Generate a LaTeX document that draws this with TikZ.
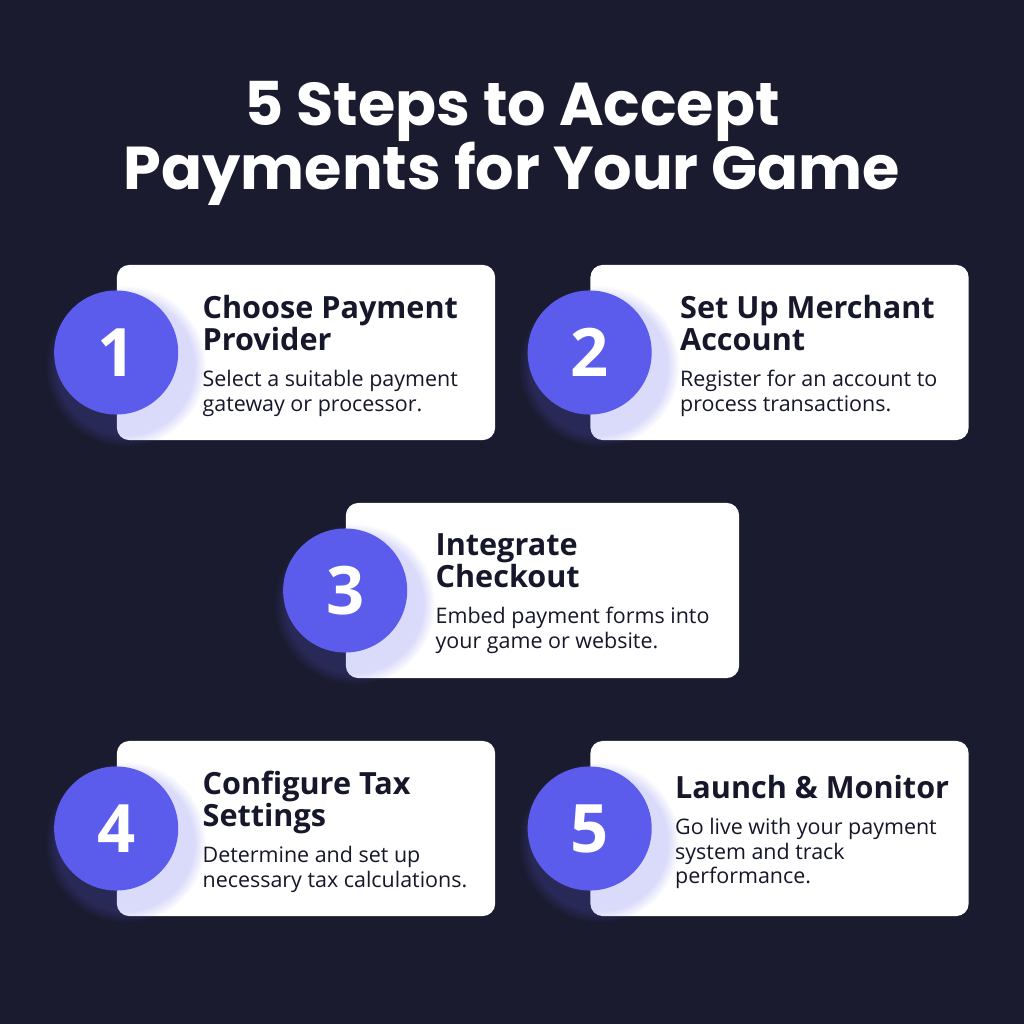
\documentclass[tikz,border=0pt]{standalone}
\usepackage{fontspec}
\setmainfont{Open Sans}
\newfontfamily\headfont{Poppins}
\usetikzlibrary{positioning,shadows}
\definecolor{pagebg}{HTML}{1A1B2E}
\definecolor{stepblue}{HTML}{5B5CEB}
\definecolor{inkdark}{HTML}{16172A}
\newcommand{\stepinfo}[2]{%
  {\fontsize{8.7}{9.1}\selectfont\bfseries #1\par}\vspace{3.1pt}%
  {\fontsize{6.1}{7.1}\selectfont #2\par}}
\tikzset{
  stepcard/.style={fill=white,rounded corners=3.5pt,inner sep=0pt,
    minimum height=1.75cm,minimum width=3.78cm},
  stepcircle/.style={circle,fill=stepblue,minimum size=1.24cm,inner sep=0pt,
    text=white,font=\bfseries\fontsize{19}{19}\selectfont,
    circular glow={fill=stepblue,opacity=0.22,shadow scale=1.3,
      shadow xshift=2pt,shadow yshift=-3pt}},
  steptext/.style={anchor=west,align=flush left,text width=3.4cm,inner sep=0pt,
    text=inkdark,yshift=-1pt},
  headline/.style={align=center,text=white,
    font=\headfont\bfseries\fontsize{17.2}{18.2}\selectfont}
}
\begin{document}
\begin{tikzpicture}[x=0.01cm,y=-0.01cm]
  \fill[pagebg] (0,0) rectangle (1024,1024);
  \useasboundingbox (0,0) rectangle (1024,1024);
  \node[headline] (title) at (512,143) {5 Steps to Accept\\Payments for Your Game};
  % cards
  \node[stepcard] (card1) at (306,352.5) {};
  \node[stepcard] (card2) at (779.5,352.5) {};
  \node[stepcard,minimum width=3.93cm] (card3) at (542.5,590.5) {};
  \node[stepcard] (card4) at (306,828.5) {};
  \node[stepcard] (card5) at (779.5,828.5) {};
  % number badges
  \node[stepcircle] (num1) at (card1.west) {1};
  \node[stepcircle] (num2) at (card2.west) {2};
  \node[stepcircle] (num3) at (card3.west) {3};
  \node[stepcircle] (num4) at (card4.west) {4};
  \node[stepcircle] (num5) at (card5.west) {5};
  % texts
  \node[steptext,right=0.23cm of num1.east] (text1)
    {\stepinfo{Choose Payment\\Provider}{Select a suitable payment\\gateway or processor.}};
  \node[steptext,right=0.27cm of num2.east] (text2)
    {\stepinfo{Set Up Merchant\\Account}{Register for an account to\\process transactions.}};
  \node[steptext,right=0.27cm of num3.east] (text3)
    {\stepinfo{Integrate\\Checkout}{Embed payment forms into\\your game or website.}};
  \node[steptext,right=0.23cm of num4.east] (text4)
    {\stepinfo{Configure Tax\\Settings}{Determine and set up\\necessary tax calculations.}};
  \node[steptext,right=0.22cm of num5.east] (text5)
    {\stepinfo{Launch \& Monitor}{Go live with your payment\\system and track\\performance.}};
\end{tikzpicture}
\end{document}
